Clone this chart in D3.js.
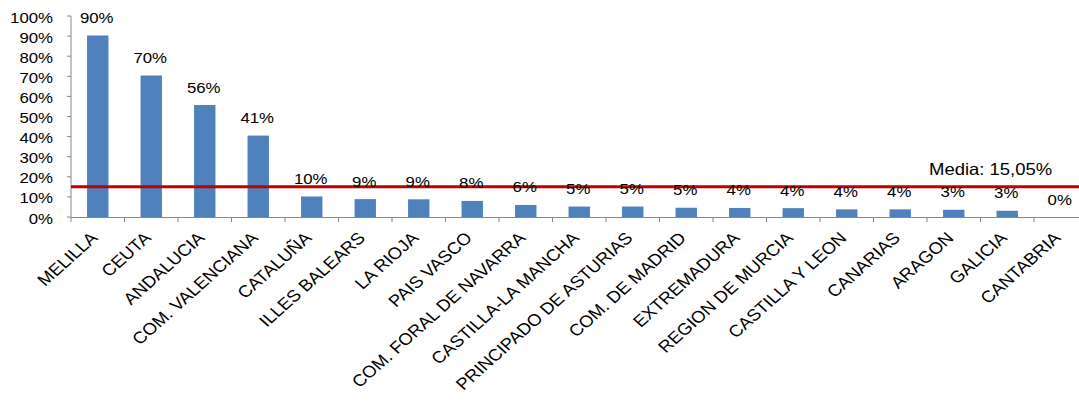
<!DOCTYPE html>
<html>
<head>
<meta charset="utf-8">
<script src="https://cdn.jsdelivr.net/npm/d3@7"></script>
<style>
  html, body { margin: 0; padding: 0; background: #fff; }
  svg { display: block; font-family: "Liberation Sans", Arial, sans-serif; }
</style>
</head>
<body>
<script>
const categories = ["MELILLA","CEUTA","ANDALUCIA","COM. VALENCIANA","CATALUÑA","ILLES BALEARS","LA RIOJA","PAIS VASCO","COM. FORAL DE NAVARRA","CASTILLA-LA MANCHA","PRINCIPADO DE ASTURIAS","COM. DE MADRID","EXTREMADURA","REGION DE MURCIA","CASTILLA Y LEON","CANARIAS","ARAGON","GALICIA","CANTABRIA"];
const values = [90.3, 70.4, 55.7, 40.5, 10.2, 8.9, 8.8, 8.0, 6.0, 5.2, 5.2, 4.6, 4.5, 4.4, 3.8, 3.8, 3.6, 3.1, 0.0];
const valueLabels = ["90%","70%","56%","41%","10%","9%","9%","8%","6%","5%","5%","5%","4%","4%","4%","4%","3%","3%","0%"];
const yTicks = [0,10,20,30,40,50,60,70,80,90,100];
const mean = 15.05;
const meanLabel = "Media: 15,05%";

const W = 1079, H = 403;
const SX = 1.12; // horizontal text stretch seen in the reference
const svg = d3.select("body").append("svg").attr("width", W).attr("height", H);

const x = d3.scaleBand().domain(categories).range([71, 1087.5]).paddingInner(0.6).paddingOuter(0.3);
const y = d3.scaleLinear().domain([0, 100]).range([217, 16]);
const step = x.step();
const axisColor = "#868686";

// bars
svg.selectAll("rect.bar").data(categories).enter().append("rect")
  .attr("class","bar")
  .attr("x", d => x(d))
  .attr("width", x.bandwidth())
  .attr("y", (d,i) => y(values[i]))
  .attr("height", (d,i) => y(0) - y(values[i]))
  .attr("fill", "#4F81BD");

// y axis
const yAxis = svg.append("g");
yAxis.append("line").attr("x1",71).attr("x2",71).attr("y1",y(100)).attr("y2",y(0)).attr("stroke",axisColor);
yTicks.forEach(t => {
  yAxis.append("line").attr("x1",67).attr("x2",71).attr("y1",y(t)).attr("y2",y(t)).attr("stroke",axisColor);
  yAxis.append("text")
    .attr("transform", `translate(53,${y(t)+6.5}) scale(${SX},1)`)
    .attr("text-anchor","end").attr("font-size",15).attr("fill","#000")
    .text(t + "%");
});

// x axis
const xAxis = svg.append("g");
xAxis.append("line").attr("x1",71).attr("x2",W).attr("y1",y(0)+0.5).attr("y2",y(0)+0.5).attr("stroke",axisColor);
const edges = categories.map(c => x(c) - (step - x.bandwidth())/2);
edges.push(edges[edges.length-1] + step);
edges.forEach(e => {
  xAxis.append("line").attr("x1",e).attr("x2",e).attr("y1",y(0)).attr("y2",y(0)+5).attr("stroke",axisColor);
});
categories.forEach(c => {
  const cx = x(c) + x.bandwidth()/2;
  xAxis.append("text")
    .attr("transform", `translate(${cx+1},${y(0)+22}) scale(${SX},1) rotate(-45)`)
    .attr("text-anchor","end").attr("font-size",16.5).attr("fill","#000")
    .text(c);
});

// mean line
svg.append("line").attr("x1",71).attr("x2",W).attr("y1",y(mean)).attr("y2",y(mean))
  .attr("stroke","#C00000").attr("stroke-width",3);

// value labels
categories.forEach((c,i) => {
  const cx = x(c) + x.bandwidth()/2;
  svg.append("text")
    .attr("transform", `translate(${cx-1},${y(values[i])-12.5}) scale(${SX},1)`)
    .attr("text-anchor","middle").attr("font-size",15).attr("fill","#000")
    .text(valueLabels[i]);
});

// mean label
svg.append("text")
  .attr("transform", `translate(929,${y(mean)-11.5}) scale(${SX},1)`)
  .attr("text-anchor","start").attr("font-size",16.5).attr("fill","#000")
  .text(meanLabel);
</script>
</body>
</html>
